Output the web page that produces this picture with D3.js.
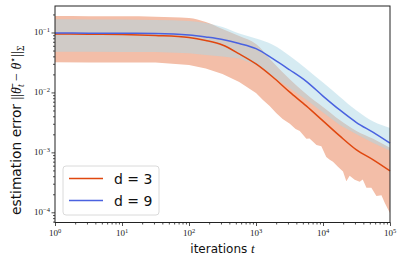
<!DOCTYPE html>
<html>
<head>
<meta charset="utf-8">
<script src="https://cdn.jsdelivr.net/npm/d3@7"></script>
<style>
body { margin: 0; background: #fff; }
svg { display: block; }
</style>
</head>
<body>
<div id="wrapper"></div>
<script>
// data
const iters = [1, 3.16, 10, 31.6, 100, 178, 316, 562, 1000, 1778, 3162, 5623, 10000, 17783, 31623, 56234, 100000]

const meanD3  = [0.0944, 0.0937, 0.0926, 0.0891, 0.0825, 0.0736, 0.0619, 0.0440, 0.0299, 0.0181, 0.0102, 0.00596, 0.00335, 0.00188, 0.00110, 0.00075, 0.00049]
const upperD3 = [0.1884, 0.187, 0.1863, 0.1834, 0.1744, 0.1496, 0.1144, 0.0874, 0.0643, 0.0322, 0.0168, 0.00944, 0.00573, 0.00348, 0.00228, 0.00168, 0.00119]
const lowerD3Iters = [1, 3.16, 10, 31.6, 100, 178, 316, 562, 1000, 1270, 1600, 2000, 2500, 3200, 3900, 4500, 5650, 6300, 8000, 9450,
  11200, 12600, 14100, 16700, 19900, 22300, 25000, 29700, 35300, 39200, 44500, 52700, 62700, 74500, 83400, 93300, 100000]
const lowerD3 = [0.0319, 0.0316, 0.0316, 0.0316, 0.0287, 0.0251, 0.0203, 0.0150, 0.0098, 0.0075, 0.00596, 0.00455, 0.00362, 0.00299, 0.00246, 0.00228, 0.00168, 0.00171, 0.00133, 0.00126,
  0.00084, 0.00075, 0.000695, 0.000573, 0.000479, 0.000330, 0.000406, 0.000348, 0.000322, 0.000352, 0.000256, 0.000256, 0.000188, 0.000192, 0.000145, 0.000112, 0.000097]

const meanD9  = [0.0981, 0.0974, 0.097, 0.0962, 0.0908, 0.0841, 0.0764, 0.0656, 0.0537, 0.0366, 0.0239, 0.0153, 0.0087, 0.0051, 0.00315, 0.00215, 0.00142]
const upperD9 = [0.166, 0.1647, 0.164, 0.1616, 0.1555, 0.144, 0.1235, 0.0962, 0.0794, 0.0624, 0.0409, 0.0249, 0.0146, 0.0085, 0.00499, 0.00327, 0.00256]
const lowerD9 = [0.0479, 0.0475, 0.0473, 0.0473, 0.045, 0.0422, 0.0398, 0.0369, 0.0287, 0.0185, 0.0118, 0.00753, 0.00464, 0.00287, 0.0020, 0.00144, 0.00106]

const legendLabels = ["d = 3", "d = 9"]
const xMajor = [1, 10, 100, 1000, 10000, 100000]
const yMajor = [1e-4, 1e-3, 1e-2, 1e-1]

const dimensions = {
  width: 404, height: 265,
  margins: {top: 6, bottom: 42.5, left: 55, right: 14}
}
dimensions.boundsWidth = dimensions.width - dimensions.margins.left - dimensions.margins.right
dimensions.boundsHeight = dimensions.height - dimensions.margins.top - dimensions.margins.bottom

const wrapper = d3.select("#wrapper").append("svg")
  .attr("width", dimensions.width)
  .attr("height", dimensions.height)

const bounds = wrapper.append("g")
  .attr("transform", `translate(${dimensions.margins.left},${dimensions.margins.top})`)

// scales
const xScale = d3.scaleLog().domain([1, 1e5]).range([0, dimensions.boundsWidth])
const yScale = d3.scaleLog().domain([Math.pow(10, -4.17), Math.pow(10, -0.558)]).range([dimensions.boundsHeight, 0])

const lineGen = d3.line().curve(d3.curveMonotoneX)
function bandPath(ux, uy, lx, ly) {
  const up = lineGen(ux.map((t, i) => [xScale(t), yScale(uy[i])]))
  const lowPts = lx.map((t, i) => [xScale(t), yScale(ly[i])]).reverse()
  const low = d3.line()(lowPts)
  return up + "L" + low.slice(1) + "Z"
}

// bands
bounds.append("path")
  .attr("d", bandPath(iters, upperD3, lowerD3Iters, lowerD3))
  .attr("fill", "#f3bea8")
bounds.append("path")
  .attr("d", bandPath(iters, upperD9, iters, lowerD9))
  .attr("fill", "#add8e6").attr("fill-opacity", 0.5)

// mean lines
function drawLine(vals, color) {
  bounds.append("path")
    .attr("d", lineGen(iters.map((t, i) => [xScale(t), yScale(vals[i])])))
    .attr("fill", "none").attr("stroke", color).attr("stroke-width", 1.5)
}
drawLine(meanD3, "#e0470f")
drawLine(meanD9, "#4a62e0")

// axes
const minorX = []
for (let e = 0; e < 5; e++) for (let k = 2; k <= 9; k++) minorX.push(k * Math.pow(10, e))
const minorY = []
for (let e = -5; e < 0; e++) for (let k = 2; k <= 9; k++) {
  const v = k * Math.pow(10, e)
  if (v > yScale.domain()[0] && v < yScale.domain()[1]) minorY.push(v)
}

function styleAxis(g) {
  g.select(".domain").remove()
  g.selectAll(".tick line").attr("stroke", "#222").attr("stroke-width", 0.8)
}
bounds.append("g").attr("transform", `translate(0,${dimensions.boundsHeight})`)
  .call(d3.axisBottom(xScale).tickValues(xMajor).tickSize(3.5).tickFormat(""))
  .call(styleAxis)
bounds.append("g").attr("transform", `translate(0,${dimensions.boundsHeight})`)
  .call(d3.axisBottom(xScale).tickValues(minorX).tickSize(2).tickFormat(""))
  .call(styleAxis)
bounds.append("g")
  .call(d3.axisLeft(yScale).tickValues(yMajor).tickSize(3.5).tickFormat(""))
  .call(styleAxis)
bounds.append("g")
  .call(d3.axisLeft(yScale).tickValues(minorY).tickSize(2).tickFormat(""))
  .call(styleAxis)

// tick labels with superscripts
const tickFont = "'Liberation Serif', 'DejaVu Serif', serif"
xMajor.forEach(v => {
  const t = bounds.append("text")
    .attr("x", xScale(v)).attr("y", dimensions.boundsHeight + 13.5)
    .attr("text-anchor", "middle")
    .attr("font-family", tickFont).attr("font-size", 9).attr("fill", "#222")
  t.append("tspan").text("10")
  t.append("tspan").attr("dy", -3.5).attr("font-size", 6.5).text(Math.round(Math.log10(v)))
})
yMajor.forEach(v => {
  const t = bounds.append("text")
    .attr("x", -5).attr("y", yScale(v) + 3)
    .attr("text-anchor", "end")
    .attr("font-family", tickFont).attr("font-size", 9).attr("fill", "#222")
  t.append("tspan").text("10")
  t.append("tspan").attr("dy", -3.5).attr("font-size", 6.5).text("\u2212" + Math.abs(Math.round(Math.log10(v))))
})

// spines
bounds.append("rect")
  .attr("width", dimensions.boundsWidth).attr("height", dimensions.boundsHeight)
  .attr("fill", "none").attr("stroke", "#222").attr("stroke-width", 1)

// axis labels
const xl = wrapper.append("text")
  .attr("x", dimensions.margins.left + dimensions.boundsWidth / 2).attr("y", 252.5)
  .attr("text-anchor", "middle")
  .attr("font-family", "'DejaVu Sans', sans-serif").attr("font-size", 12).attr("fill", "#111")
xl.append("tspan").text("iterations ")
xl.append("tspan").attr("font-family", tickFont).attr("font-style", "italic").attr("font-size", 13).text("t")

const yl = wrapper.append("text")
  .attr("transform", "translate(20.5,215) rotate(-90)")
  .attr("font-family", "'DejaVu Sans', sans-serif").attr("font-size", 13.8).attr("fill", "#111")
yl.append("tspan").text("estimation error ")
const mathFont = "'Liberation Serif', 'DejaVu Serif', serif"
yl.append("tspan").attr("font-family", mathFont).attr("font-size", 14).text("||")
yl.append("tspan").attr("font-family", mathFont).attr("font-style", "italic").attr("font-size", 14).text("\u03b8\u0304")
yl.append("tspan").attr("font-family", mathFont).attr("font-style", "italic").attr("font-size", 9.5).attr("dy", 3).text("t")
yl.append("tspan").attr("font-family", mathFont).attr("font-size", 14).attr("dy", -3).text(" \u2212 ")
yl.append("tspan").attr("font-family", mathFont).attr("font-style", "italic").attr("font-size", 14).text("\u03b8")
yl.append("tspan").attr("font-family", mathFont).attr("font-size", 9.5).attr("dy", -5).text("\u22c6")
yl.append("tspan").attr("font-family", mathFont).attr("font-size", 14).attr("dy", 5).text("||")
yl.append("tspan").attr("font-family", mathFont).attr("font-size", 9.5).attr("dy", 3).text("\u03a3")

// legend
const legend = bounds.append("g").attr("transform", "translate(8,160)")
legend.append("rect")
  .attr("width", 96).attr("height", 49).attr("rx", 3)
  .attr("fill", "#fff").attr("fill-opacity", 0.8)
  .attr("stroke", "#d0d0d0").attr("stroke-width", 0.8)
const legendColors = ["#e0470f", "#4a62e0"]
legendLabels.forEach((label, i) => {
  legend.append("line")
    .attr("x1", 6).attr("x2", 40).attr("y1", 12.5 + i * 22).attr("y2", 12.5 + i * 22)
    .attr("stroke", legendColors[i]).attr("stroke-width", 1.5)
  legend.append("text")
    .attr("x", 51).attr("y", 18 + i * 22)
    .attr("font-family", "'DejaVu Sans', sans-serif").attr("font-size", 14).attr("fill", "#111")
    .text(label)
})
</script>
</body>
</html>
